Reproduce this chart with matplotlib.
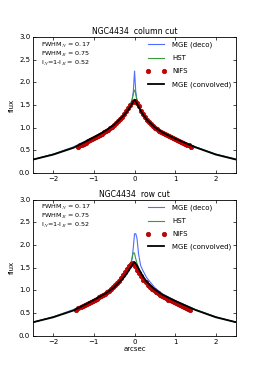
import numpy as np
import matplotlib
matplotlib.use("Agg")
import matplotlib.pyplot as plt

plt.style.use('classic')

# model grid (arcsec)
xm = [-2.5, -2.0, -1.5, -1.0, -0.7, -0.5, -0.3, -0.2, -0.15, -0.1, -0.06, -0.03, -0.01,
      0.0, 0.01, 0.03, 0.06, 0.1, 0.15, 0.2, 0.3, 0.5, 0.7, 1.0, 1.5, 2.0, 2.5]

# column cut
col_deco = [0.30, 0.42, 0.58, 0.80, 0.95, 1.08, 1.25, 1.36, 1.43, 1.52, 1.62, 1.80, 2.10,
            2.25, 2.10, 1.80, 1.60, 1.48, 1.38, 1.30, 1.18, 1.02, 0.90, 0.77, 0.58, 0.42, 0.30]
col_hst = [0.30, 0.42, 0.57, 0.80, 0.95, 1.08, 1.25, 1.36, 1.43, 1.52, 1.62, 1.74, 1.82,
           1.83, 1.82, 1.74, 1.60, 1.48, 1.38, 1.30, 1.18, 1.02, 0.90, 0.77, 0.58, 0.42, 0.31]
col_conv = [0.30, 0.41, 0.56, 0.79, 0.94, 1.07, 1.24, 1.34, 1.40, 1.47, 1.53, 1.58, 1.61,
            1.62, 1.61, 1.58, 1.53, 1.46, 1.38, 1.30, 1.18, 1.01, 0.89, 0.76, 0.57, 0.41, 0.30]

# row cut
row_deco = [0.30, 0.42, 0.58, 0.80, 0.95, 1.08, 1.26, 1.38, 1.45, 1.55, 1.70, 1.95, 2.15,
            2.25, 2.25, 2.25, 2.15, 1.80, 1.55, 1.45, 1.28, 1.06, 0.92, 0.78, 0.58, 0.42, 0.30]
row_hst = [0.30, 0.42, 0.57, 0.80, 0.95, 1.08, 1.25, 1.36, 1.45, 1.58, 1.72, 1.83, 1.83,
           1.82, 1.78, 1.70, 1.60, 1.50, 1.40, 1.32, 1.20, 1.03, 0.90, 0.77, 0.58, 0.42, 0.30]
row_conv = [0.30, 0.41, 0.56, 0.79, 0.94, 1.07, 1.25, 1.36, 1.43, 1.50, 1.56, 1.60, 1.62,
            1.62, 1.61, 1.59, 1.55, 1.48, 1.40, 1.32, 1.19, 1.02, 0.90, 0.77, 0.57, 0.41, 0.30]

# NIFS data
xn_col = np.round(np.arange(-1.40, 1.401, 0.05), 2)
nifs_col = [0.57, 0.61, 0.63, 0.65, 0.67, 0.70, 0.72, 0.75, 0.77, 0.80, 0.82, 0.85, 0.87, 0.90,
            0.93, 0.96, 0.99, 1.02, 1.06, 1.10, 1.14, 1.19, 1.24, 1.30, 1.36, 1.43, 1.50, 1.56,
            1.60, 1.55, 1.47, 1.38, 1.30, 1.23, 1.18, 1.13, 1.08, 1.04, 1.00, 0.97, 0.94, 0.91,
            0.89, 0.86, 0.84, 0.81, 0.79, 0.77, 0.75, 0.73, 0.71, 0.69, 0.67, 0.65, 0.63, 0.61, 0.57]
xn_row = np.round(np.arange(-1.43, 1.371, 0.05), 2)
nifs_row = [0.57, 0.61, 0.63, 0.65, 0.67, 0.70, 0.72, 0.75, 0.77, 0.80, 0.82, 0.85, 0.87, 0.90,
            0.93, 0.96, 0.99, 1.03, 1.07, 1.11, 1.16, 1.21, 1.27, 1.33, 1.40, 1.47, 1.54, 1.59,
            1.60, 1.54, 1.46, 1.38, 1.31, 1.24, 1.18, 1.13, 1.08, 1.04, 1.00, 0.97, 0.94, 0.91,
            0.88, 0.85, 0.83, 0.80, 0.78, 0.76, 0.74, 0.72, 0.70, 0.68, 0.66, 0.64, 0.62, 0.60, 0.57]

fig = plt.figure(figsize=(2.62, 3.74), dpi=100, facecolor='white')
ax1 = fig.add_axes([0.126, 0.537, 0.775, 0.364])
ax2 = fig.add_axes([0.126, 0.102, 0.775, 0.364])

fs = 5
panels = [(ax1, 'NGC4434  column cut', col_deco, col_hst, col_conv, xn_col, nifs_col),
          (ax2, 'NGC4434  row cut', row_deco, row_hst, row_conv, xn_row, nifs_row)]

for ax, title, deco, hst, conv, xn, nifs in panels:
    ax.plot(xm, deco, color='#4f6cff', lw=0.8, label='MGE (deco)')
    ax.plot(xm, hst, color='#3a9a3a', lw=0.8, label='HST')
    ax.plot(xn, nifs, 'o', color='#cc0000', mec='#aa0000', ms=3.2, label='NIFS')
    ax.plot(xm, conv, color='black', lw=1.3, label='MGE (convolved)')
    ax.set_xlim(-2.5, 2.5)
    ax.set_ylim(0, 3.0)
    ax.set_xticks([-2, -1, 0, 1, 2])
    ax.set_yticks(np.arange(0, 3.01, 0.5))
    ax.tick_params(labelsize=fs, length=2.5, width=0.5, pad=2)
    for s in ax.spines.values():
        s.set_linewidth(0.6)
    ax.set_title(title, fontsize=fs + 0.6, pad=2)
    ax.set_ylabel('flux', fontsize=fs, labelpad=3)
    ax.text(0.04, 0.975, r'FWHM$_N$ = 0.17', transform=ax.transAxes, fontsize=4.6, va='top')
    ax.text(0.04, 0.908, r'FWHM$_B$ = 0.75', transform=ax.transAxes, fontsize=4.6, va='top')
    ax.text(0.04, 0.841, r'I$_N$=1-I$_B$ = 0.52', transform=ax.transAxes, fontsize=4.6, va='top')
    ax.legend(loc='upper right', fontsize=fs, frameon=False, numpoints=2,
              handlelength=3.0, borderaxespad=0.3, labelspacing=1.0)

ax2.set_xlabel('arcsec', fontsize=fs, labelpad=1)

fig.savefig('out.png', dpi=100, facecolor='white')
